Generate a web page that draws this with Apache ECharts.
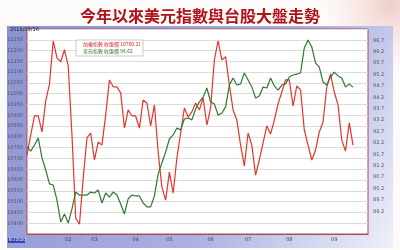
<!DOCTYPE html>
<html><head><meta charset="utf-8">
<script src="https://cdn.jsdelivr.net/npm/echarts@6/dist/echarts.min.js"></script>
<style>html,body{margin:0;padding:0;background:#fff}#c{width:400px;height:250px}</style>
</head><body><div id="c"></div>
<script>
const titleText = '今年以來美元指數與台股大盤走勢';
const dateText = '2018/09/16';
const seriesNames = ['加權指數', '美元指數'];
const closeLabels = ['10780.21', '94.62'];
const monthLabels = ['02', '03', '04', '05', '06', '07', '08', '09'];
const monthIdx = [11, 18, 29, 38, 49, 59, 70, 82];
const categoryCount = 92;
const taiex = [10716,10809,10897,10897,10823,10967,11046,11245,11166,11148,11204,11129,10809,10423,10395,10609,10795,10818,10693,10776,10762,10902,11064,11032,11032,11004,10841,10925,10897,10897,10841,10971,10957,10851,10948,10730,10567,10507,10637,10539,10702,10818,10934,10892,10916,10957,10925,10981,10855,10934,11157,11245,11157,11171,11041,10925,10878,10762,10665,10818,10762,10623,10693,10772,10851,10813,10878,10953,11008,11064,11064,10943,11036,11018,10832,10762,10693,10739,10823,10869,11032,11092,11008,10948,10786,10734,10865,10762];
const dxy = [92.02,91.84,92.11,92.41,91.54,91.01,90.40,90.35,89.69,88.73,89.08,88.68,89.30,90.04,89.91,89.91,89.91,90.04,90.00,90.13,89.56,90.00,89.82,90.04,89.91,89.52,89.08,89.74,89.91,89.87,89.87,89.56,89.39,89.39,89.87,90.83,91.32,91.80,92.37,92.55,92.85,92.77,93.25,93.29,93.21,93.69,94.00,94.21,94.61,94.00,93.91,93.42,93.51,93.78,94.74,95.05,94.74,94.79,95.27,94.96,94.65,94.17,94.26,94.65,94.61,95.05,94.70,94.52,94.74,94.79,95.09,95.18,95.22,95.27,96.37,96.72,96.41,95.71,95.53,94.87,94.74,95.09,95.31,95.14,95.05,94.65,94.79,94.65];

const categories = [];
for (let i = 0; i < categoryCount; i++) {
  const k = monthIdx.indexOf(i);
  categories.push(k >= 0 ? monthLabels[k] : '');
}

const chart = echarts.init(document.getElementById('c'), null, {renderer: 'canvas'});
chart.setOption({
  animation: false,
  backgroundColor: '#fdfbfa',
  title: {
    text: titleText, left: 'center', top: 3,
    textStyle: {fontFamily: 'Noto Sans CJK TC', fontWeight: 'bold', fontSize: 16, color: '#b0121a'}
  },
  graphic: [
    {type: 'circle', shape: {cx: 390, cy: 5, r: 70}, z: -20,
      style: {fill: {type: 'radial', x: 0.5, y: 0.5, r: 0.5,
        colorStops: [{offset: 0, color: 'rgba(225,150,140,0.45)'}, {offset: 1, color: 'rgba(240,200,195,0)'}]}}},
    {type: 'rect', shape: {x: 7, y: 26, width: 386, height: 222}, z: -10,
      style: {fill: {type: 'linear', x: 0, y: 0, x2: 1, y2: 1,
        colorStops: [{offset: 0, color: '#8b92d2'}, {offset: 0.6, color: '#aab0e2'}, {offset: 1, color: '#eef0fa'}]}}},
    {type: 'text', left: 10, top: 27, z: 10,
      style: {text: dateText, fontSize: 5, fill: '#222', fontFamily: 'DejaVu Sans'}},
    {type: 'rect', shape: {x: 8, y: 238, width: 17, height: 5}, z: 10, style: {fill: '#3347b0'}},
    {type: 'text', left: 9, top: 238, z: 11,
      style: {text: 'B:12020', fontSize: 4, fill: '#fff', fontFamily: 'DejaVu Sans'}}
  ],
  legend: {
    orient: 'vertical', left: 76, top: 40, itemWidth: 0, itemHeight: 0, itemGap: 2,
    icon: 'none', backgroundColor: '#fff', borderColor: '#c8c8c8', borderWidth: 1, padding: [2, 2],
    data: [
      {name: seriesNames[0], textStyle: {color: '#d42a22'}},
      {name: seriesNames[1], textStyle: {color: '#2a7a2a'}}
    ],
    textStyle: {fontSize: 5, fontFamily: 'Noto Sans CJK TC'},
    formatter: function (n) { return n + ' 收盤價 ' + closeLabels[seriesNames.indexOf(n)]; }
  },
  grid: {left: 27, right: 32, top: 29, bottom: 16, show: true, backgroundColor: '#ffffff',
    borderColor: '#b84848', borderWidth: 1},
  xAxis: {
    type: 'category', data: categories, boundaryGap: false,
    axisLine: {lineStyle: {color: '#a04848', width: 1}},
    axisTick: {show: true, interval: 0, length: 1.5, lineStyle: {color: '#b09090', width: 0.6}},
    axisLabel: {interval: 0, fontSize: 5, color: '#444', margin: 3, fontFamily: 'DejaVu Sans'},
    splitLine: {show: false}
  },
  yAxis: [
    {type: 'value', min: 10350, max: 11300, interval: 50,
      axisLine: {show: false}, axisTick: {show: false},
      axisLabel: {fontSize: 5, color: '#555', margin: 4, showMinLabel: false, showMaxLabel: false, fontFamily: 'DejaVu Sans',
        formatter: function (v) { return String(v); }},
      splitLine: {lineStyle: {color: '#dcdcdc', width: 1}}},
    {type: 'value', min: 88.2, max: 97.2, interval: 0.5, position: 'right',
      axisLine: {show: false}, axisTick: {show: false},
      axisLabel: {fontSize: 5, color: '#555', margin: 5, fontFamily: 'DejaVu Sans',
        formatter: function (v) { return (v < 89 || v > 97) ? '' : v.toFixed(1); }},
      splitLine: {show: false}}
  ],
  series: [
    {name: seriesNames[0], type: 'line', data: taiex, yAxisIndex: 0, showSymbol: false,
      lineStyle: {color: '#e5352a', width: 1.2}, itemStyle: {color: '#e5352a'}},
    {name: seriesNames[1], type: 'line', data: dxy, yAxisIndex: 1, showSymbol: false,
      lineStyle: {color: '#2f7a2f', width: 1.2}, itemStyle: {color: '#2f7a2f'}}
  ]
});
</script></body></html>
